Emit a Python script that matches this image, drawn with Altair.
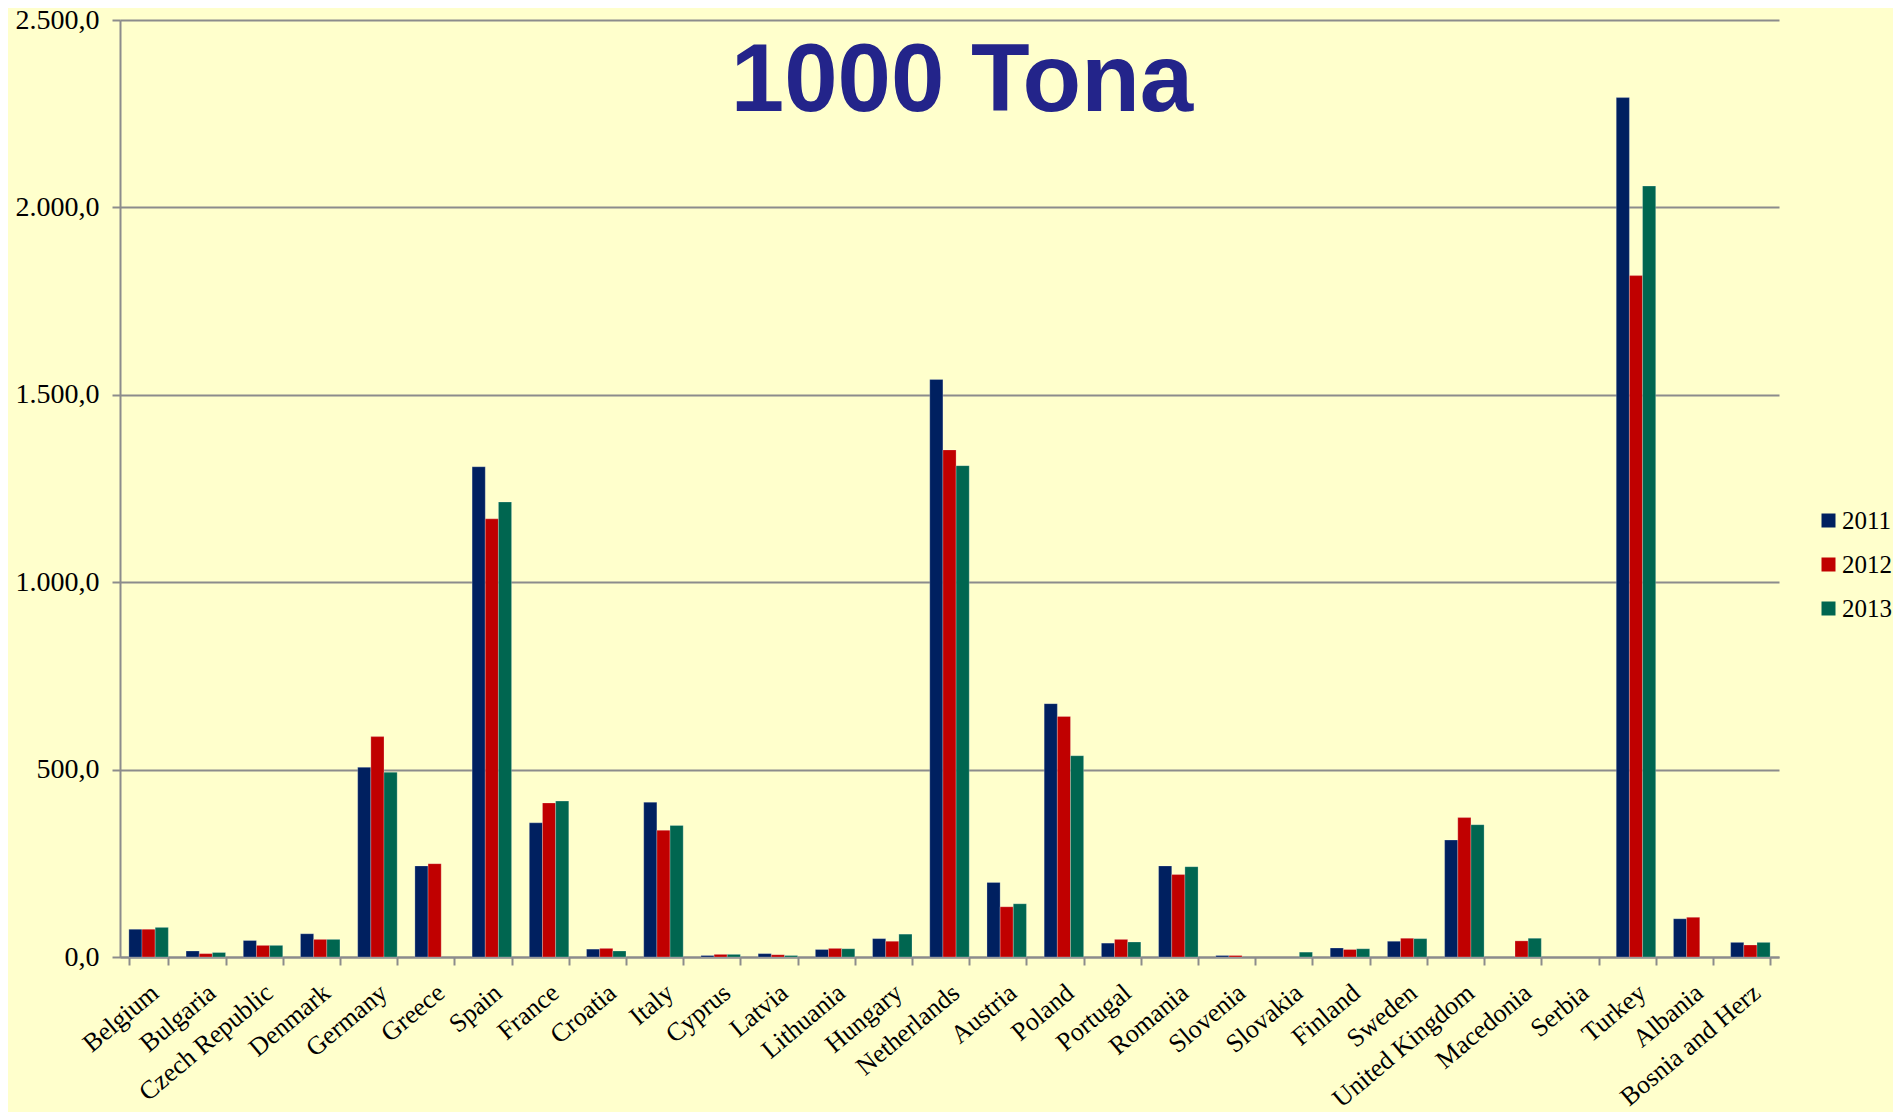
import altair as alt
import pandas as pd

title_text = "1000 Tona"
countries = ["Belgium", "Bulgaria", "Czech Republic", "Denmark", "Germany", "Greece",
             "Spain", "France", "Croatia", "Italy", "Cyprus", "Latvia", "Lithuania",
             "Hungary", "Netherlands", "Austria", "Poland", "Portugal", "Romania",
             "Slovenia", "Slovakia", "Finland", "Sweden", "United Kingdom", "Macedonia",
             "Serbia", "Turkey", "Albania", "Bosnia and Herz"]
years = ["2011", "2012", "2013"]
v2011 = [74, 16, 44, 62, 506, 243, 1308, 358, 21, 413, 4, 9, 20, 49, 1541, 199, 676,
         37, 243, 4, None, 24, 42, 312, None, None, 2293, 102, 39]
v2012 = [74, 9, 31, 47, 588, 249, 1169, 411, 23, 338, 7, 6, 23, 42, 1353, 134, 642,
         47, 220, 4, None, 20, 50, 372, 43, None, 1818, 106, 32]
v2013 = [79, 12, 31, 47, 493, None, 1214, 416, 16, 351, 7, 4, 22, 61, 1311, 142, 537,
         40, 241, None, 13, 22, 49, 353, 50, None, 2057, None, 39]
colors = ["#002060", "#C00000", "#006650"]
y_ticks = [0, 500, 1000, 1500, 2000, 2500]

rows = []
for i, c in enumerate(countries):
    for yr, vals in zip(years, [v2011, v2012, v2013]):
        rows.append({"country": c, "year": yr, "value": vals[i]})
df = pd.DataFrame(rows)

W, H = 1659, 937
GRAY = "#8C8C8C"

bars = alt.Chart(df).mark_bar(stroke="#FFFFFF", strokeOpacity=0.3, strokeWidth=0.8).encode(
    x=alt.X("country:N", sort=countries,
            scale=alt.Scale(paddingInner=0.31, paddingOuter=0.155),
            axis=alt.Axis(title=None, labelAngle=-40, labelAlign="right", labelBaseline="middle",
                          labelFont="Liberation Serif", labelFontSize=26, labelColor="#000000",
                          labelLimit=400,
                          tickBand="extent", ticks=True, tickSize=8, tickColor=GRAY, tickWidth=2,
                          domainColor=GRAY, domainWidth=2, grid=False, labelPadding=24,
                          labelOffset=6)),
    xOffset=alt.XOffset("year:N", sort=years, scale=alt.Scale(paddingInner=0, paddingOuter=0)),
    y=alt.Y("value:Q", scale=alt.Scale(domain=[0, 2500], nice=False),
            axis=alt.Axis(title=None, values=y_ticks,
                          labelExpr="replace(replace(replace(format(datum.value, ',.1f'), ',', '_'), '.', ','), '_', '.')",
                          labelFont="Liberation Serif", labelFontSize=28, labelColor="#000000",
                          grid=True, gridColor=GRAY, gridWidth=2,
                          domainColor=GRAY, domainWidth=2,
                          tickColor=GRAY, tickWidth=2, tickSize=8, labelPadding=13)),
    color=alt.Color("year:N", scale=alt.Scale(domain=years, range=colors),
                    legend=alt.Legend(title=None, orient="none", legendX=1696, legendY=488,
                                      symbolType="square", symbolSize=196, symbolStrokeWidth=0,
                                      labelFont="Liberation Serif", labelFontSize=25,
                                      labelColor="#000000", labelOffset=1, rowPadding=18,
                                      padding=0)),
)

title = alt.Chart(pd.DataFrame({"t": [title_text]})).mark_text(
    font="Liberation Sans", fontWeight="bold", fontSize=96, color="#23248A",
    align="center", baseline="alphabetic"
).encode(x=alt.value(842), y=alt.value(91), text="t:N")

chart = alt.layer(bars, title).properties(
    width=W, height=H, background="#FFFFCC",
    autosize=alt.AutoSizeParams(type="none"),
    padding={"left": 112, "top": 12, "right": 114, "bottom": 155},
).configure_view(stroke=None)

chart.save("out.html", embed_options={"renderer": "svg", "actions": False})
